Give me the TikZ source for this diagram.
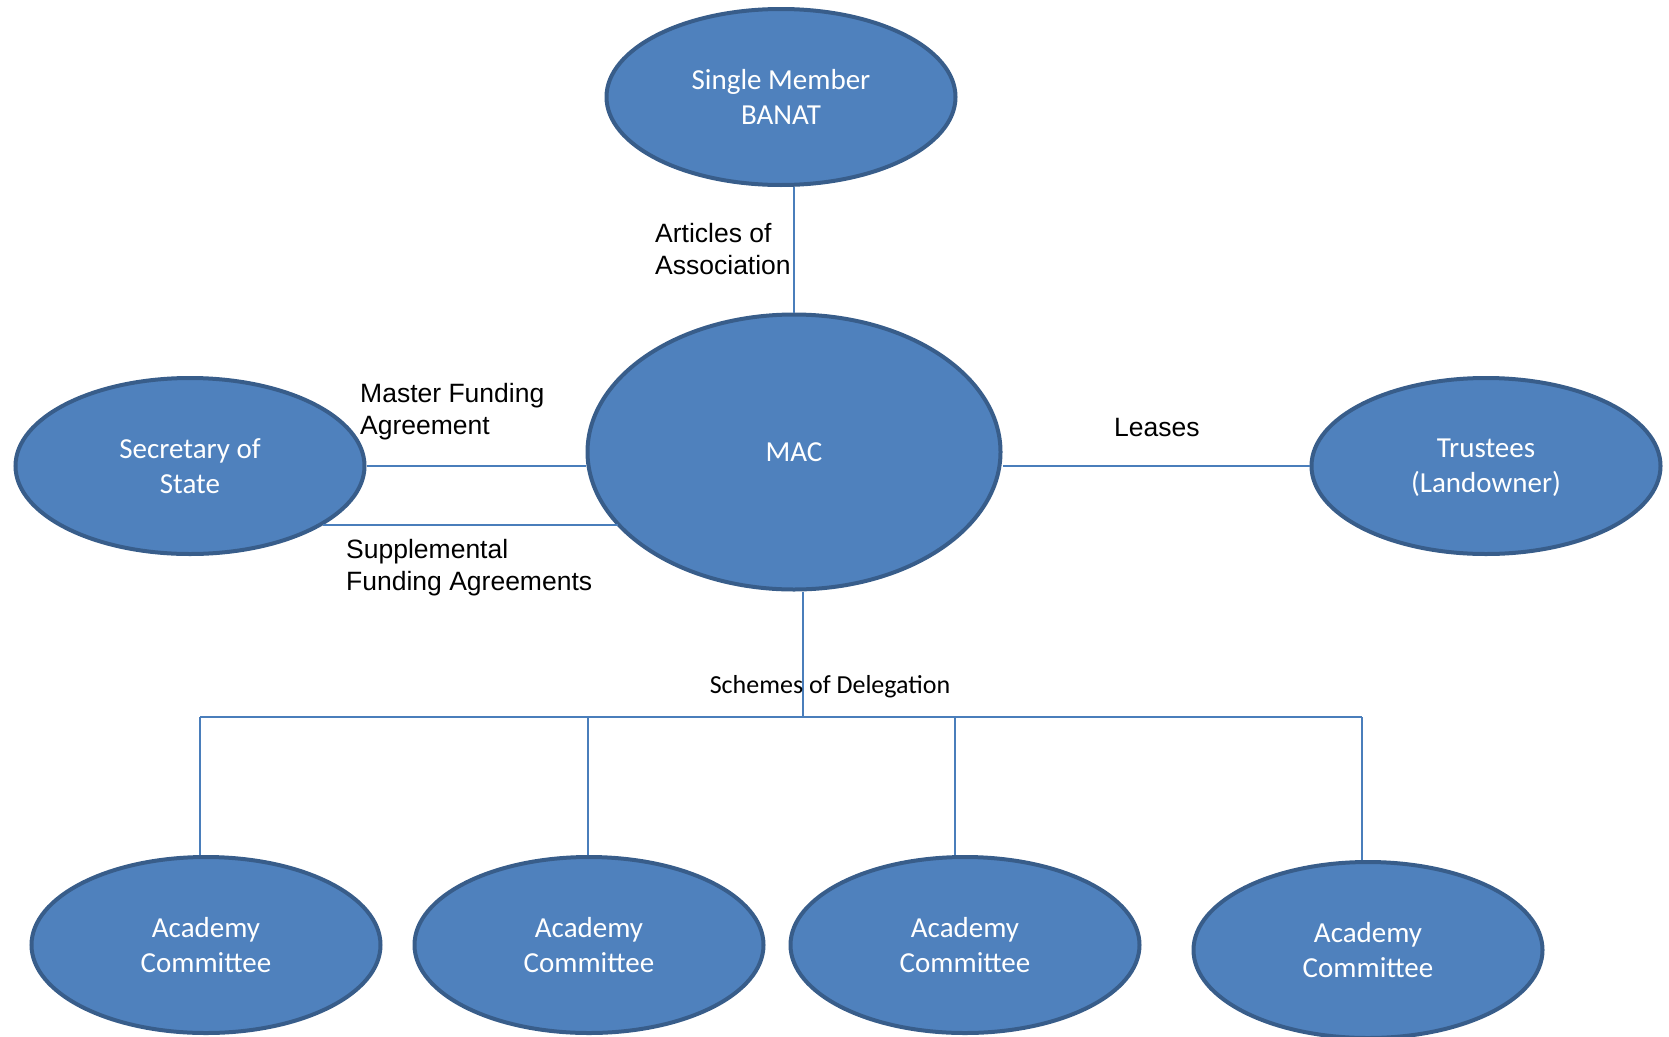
\documentclass[tikz,border=0pt]{standalone}
\usepackage{fontspec}
\setmainfont{Carlito}
\newfontfamily\arialfont{Liberation Sans}
\usepackage{tikz}
\usetikzlibrary{positioning}
\usetikzlibrary{shapes.geometric}
\definecolor{bodyblue}{HTML}{4F81BD}
\definecolor{rimblue}{HTML}{385D8A}
\definecolor{lineblue}{HTML}{4A7EBB}
\tikzset{entity/.style={ellipse, fill=bodyblue, draw=rimblue, line width=4pt,
  minimum width=349pt, minimum height=176pt, inner sep=0pt, align=center,
  text=white, font=\fontsize{29}{35}\selectfont}}
\tikzset{link/.style={draw=lineblue, line width=2pt}}
\tikzset{lbl/.style={anchor=west, inner sep=0pt, align=left,
  font=\arialfont\fontsize{26.5}{32}\selectfont}}

\begin{document}
\begin{tikzpicture}[x=1pt,y=-1pt]
\useasboundingbox (0,0) rectangle (1669,1036);
\node[entity] (banat) at (781,97) {Single Member\\BANAT};
\node[entity, minimum width=413pt, minimum height=275pt] (mac) at (794,452) {MAC};
\node[entity] (sec) at (190,466) {Secretary of\\State};
\node[entity] (tru) at (1486,466) {Trustees\\\smash{(Landowner)}};
\foreach \n/\x/\y in {1/206/945,2/589/945,3/965/945,4/1368/950} {
\node[entity] (aca\n) at (\x,\y) {Academy\\Committee};
}
\coordinate (bus) at (803,717);
% connectors
\draw[link] (mac.north) -- (mac.north |- banat.south);
\draw[link] (sec.east) -- (sec.east -| mac.west);
\draw[link] (sec.-24.4) -- (sec.-24.4 -| mac.-157.5);
\draw[link] (tru.west) -- (tru.west -| mac.east);
\draw[link] (mac.south -| bus) -- (bus);
\draw[link] ([xshift=-6pt]aca1.north |- bus) -- ([xshift=-6pt]aca4.north |- bus);
\foreach \n/\dx in {1/-6,2/-1,3/-10,4/-6} {
\draw[link] ([xshift=\dx pt]aca\n.north) -- ([xshift=\dx pt]aca\n.north |- bus);
}
% labels
\node[lbl] (artlbl) at (655,249) {Articles of\\Association};
\node[lbl] (mfalbl) at (360,412) {Master Funding\\Agreement};
\node[lbl] (sfalbl) at (346,568) {Supplemental\\Funding Agreements};
\node[lbl] (leaselbl) at (1114,428) {Leases};
\node[inner sep=0pt, font=\fontsize{26}{31}\selectfont] (schlbl) at (830,687) {Schemes of Delegation};
\end{tikzpicture}
\end{document}
